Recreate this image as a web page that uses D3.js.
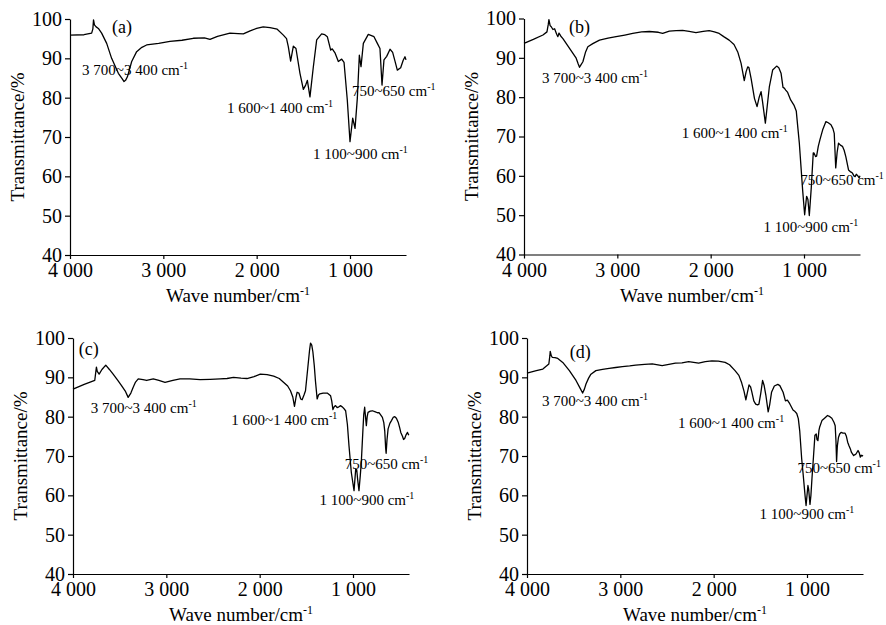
<!DOCTYPE html>
<html>
<head>
<meta charset="utf-8">
<script src="https://cdn.jsdelivr.net/npm/d3@7"></script>
<style>
  body { margin: 0; background: #fff; }
  svg { display: block; }
  text { font-family: "Times New Roman", "Liberation Serif", serif; fill: #000; }
</style>
</head>
<body>
<div id="chart"></div>
<script>
// IR spectra, [wave number, transmittance %]
var spectrumA = [[4000,95.9],[3850,96.0],[3768,96.4],[3755,97.5],[3748,99.8],[3738,98.5],[3720,98.0],[3696,97.6],[3661,96.4],[3607,93.8],[3554,90.0],[3482,86.2],[3440,84.8],[3421,84.1],[3405,84.4],[3385,85.3],[3339,89.2],[3286,91.7],[3230,92.8],[3179,93.4],[3050,93.8],[2929,94.3],[2800,94.6],[2679,95.1],[2560,95.2],[2500,94.8],[2420,95.6],[2286,96.4],[2200,96.3],[2143,96.2],[2070,97.0],[2000,97.6],[1930,98.0],[1857,97.8],[1780,97.4],[1714,95.9],[1680,95.0],[1661,93.0],[1636,89.3],[1607,93.1],[1579,92.5],[1536,86.2],[1500,82.1],[1475,83.2],[1457,84.4],[1429,80.2],[1393,87.8],[1357,94.7],[1304,96.2],[1270,96.0],[1243,95.5],[1207,92.1],[1190,92.4],[1161,91.4],[1125,89.2],[1089,89.8],[1064,89.0],[1029,79.4],[1000,68.8],[971,74.8],[946,72.2],[921,80.0],[900,90.8],[882,87.9],[857,93.8],[804,96.1],[743,95.5],[707,93.8],[679,92.5],[657,83.2],[636,89.6],[607,90.5],[571,92.3],[543,91.5],[518,89.3],[493,87.0],[457,87.6],[430,89.5],[411,90.4],[400,89.6]];

var spectrumB = [[4000,93.7],[3900,94.7],[3797,95.8],[3754,96.6],[3740,98.5],[3733,99.7],[3720,98.2],[3708,97.9],[3690,97.2],[3672,97.4],[3650,96.0],[3637,95.4],[3625,96.3],[3605,95.5],[3583,94.9],[3512,92.4],[3441,89.9],[3420,88.5],[3405,87.6],[3390,88.2],[3369,89.0],[3340,91.5],[3316,92.8],[3263,93.6],[3191,94.5],[3100,95.0],[3013,95.4],[2920,95.8],[2835,96.2],[2740,96.6],[2657,96.7],[2560,96.5],[2514,96.2],[2443,96.8],[2370,96.9],[2301,97.0],[2230,96.7],[2158,96.4],[2080,96.7],[2016,96.9],[1960,96.6],[1909,96.2],[1860,95.4],[1802,94.5],[1750,93.4],[1710,91.5],[1674,88.6],[1640,84.2],[1620,86.5],[1603,87.7],[1590,87.5],[1567,84.8],[1531,79.7],[1503,77.6],[1480,80.0],[1460,81.4],[1445,79.0],[1414,73.4],[1395,77.5],[1371,82.7],[1336,86.9],[1293,87.9],[1270,87.5],[1246,86.1],[1225,82.5],[1211,82.3],[1196,81.8],[1175,81.2],[1143,79.3],[1108,78.0],[1083,76.5],[1065,72.0],[1050,68.3],[1015,56.5],[993,50.1],[972,54.8],[958,54.0],[943,49.9],[922,57.0],[901,65.8],[893,65.8],[876,64.9],[865,65.0],[847,67.5],[829,69.2],[800,71.7],[765,73.8],[740,73.5],[711,73.0],[690,72.0],[676,70.8],[660,62.0],[645,66.0],[630,68.3],[610,67.8],[588,67.5],[570,66.5],[552,64.9],[523,61.5],[500,61.0],[481,60.7],[465,60.0],[452,59.8],[440,60.4],[427,60.1],[409,59.5],[400,60.0]];

var spectrumC = [[4000,87.0],[3880,88.2],[3767,89.2],[3755,91.5],[3749,92.6],[3740,91.5],[3720,90.8],[3690,92.0],[3649,93.1],[3610,92.0],[3570,90.8],[3520,89.2],[3480,87.9],[3440,86.5],[3409,84.9],[3380,86.0],[3355,87.5],[3330,88.8],[3301,89.6],[3250,89.4],[3211,89.2],[3140,89.6],[3080,89.2],[3014,88.7],[2930,89.2],[2853,89.6],[2750,89.6],[2638,89.4],[2530,89.5],[2423,89.6],[2350,89.7],[2280,90.0],[2200,89.8],[2136,89.7],[2060,90.2],[1993,90.8],[1920,90.7],[1850,90.3],[1790,89.7],[1742,88.7],[1700,87.8],[1670,86.6],[1645,85.0],[1627,82.6],[1610,85.0],[1599,86.2],[1580,86.0],[1560,84.5],[1545,84.3],[1525,85.5],[1509,86.6],[1484,92.5],[1465,97.0],[1455,98.7],[1442,98.2],[1430,96.5],[1415,93.0],[1402,89.0],[1384,84.5],[1370,85.5],[1355,85.8],[1320,86.0],[1276,86.0],[1240,85.3],[1228,84.0],[1215,81.8],[1200,82.6],[1187,82.8],[1170,82.3],[1151,82.5],[1135,82.8],[1115,82.5],[1095,82.0],[1079,81.5],[1060,78.0],[1043,72.6],[1018,65.8],[989,61.2],[978,64.5],[971,66.7],[960,66.5],[950,64.0],[936,61.2],[922,65.0],[911,68.4],[895,76.0],[885,80.5],[875,82.4],[866,80.0],[857,77.7],[848,80.0],[839,81.1],[815,81.4],[792,81.5],[760,81.2],[738,81.0],[721,81.0],[700,80.3],[685,79.8],[670,78.5],[660,76.4],[650,72.0],[645,70.7],[636,74.0],[624,76.9],[605,78.3],[588,79.0],[570,79.8],[552,80.0],[535,79.6],[516,78.6],[500,77.2],[488,76.0],[470,75.0],[458,74.2],[445,74.5],[433,75.3],[416,76.0],[405,75.4],[400,75.5]];

var spectrumD = [[4000,91.1],[3900,91.7],[3830,92.1],[3766,93.4],[3755,95.5],[3751,96.6],[3740,95.5],[3730,95.1],[3700,95.0],[3670,94.8],[3617,93.8],[3546,91.7],[3475,89.2],[3430,87.2],[3404,86.0],[3385,87.0],[3368,88.3],[3340,89.8],[3315,90.8],[3262,91.7],[3191,92.0],[3120,92.3],[3050,92.5],[2978,92.7],[2900,92.9],[2836,93.1],[2740,93.3],[2658,93.4],[2552,93.0],[2480,93.3],[2410,93.6],[2340,93.7],[2268,94.0],[2161,93.6],[2090,94.0],[2019,94.2],[1950,94.1],[1877,93.8],[1830,93.2],[1771,91.7],[1730,90.5],[1700,88.6],[1675,86.5],[1655,84.3],[1640,86.0],[1621,88.1],[1605,87.6],[1593,86.5],[1570,84.0],[1550,83.2],[1530,83.0],[1515,83.2],[1495,86.0],[1476,89.2],[1460,88.0],[1441,85.5],[1416,81.2],[1400,83.0],[1380,86.2],[1350,87.8],[1313,88.2],[1291,87.9],[1256,86.2],[1231,84.0],[1210,84.2],[1185,83.3],[1150,81.7],[1128,81.3],[1110,80.8],[1093,79.5],[1078,76.4],[1057,69.3],[1043,65.8],[1021,60.0],[1010,57.4],[1000,60.0],[990,62.5],[982,61.5],[968,57.7],[958,60.0],[947,64.2],[930,70.0],[915,75.3],[901,75.6],[893,74.2],[883,73.9],[872,76.5],[865,77.3],[840,79.0],[812,79.6],[780,80.3],[755,80.0],[734,79.6],[710,78.5],[698,77.7],[690,74.0],[683,68.6],[675,72.5],[663,74.7],[650,75.6],[635,76.0],[615,75.8],[592,75.8],[578,75.0],[564,73.5],[550,72.6],[535,71.8],[525,71.0],[500,70.1],[489,70.3],[475,70.5],[453,71.4],[440,70.8],[429,69.7],[420,70.2],[410,70.0],[400,70.2]];

// tick values / labels
var xTicks = [4000, 3000, 2000, 1000],
    xTickLabels = ["4 000", "3 000", "2 000", "1 000"],
    yTicks = [40, 50, 60, 70, 80, 90, 100];

// band labels, anchored at [wave number, transmittance] of each panel
var bandText = ["3 700~3 400 cm", "1 600~1 400 cm", "1 100~900 cm", "750~650 cm"];
var bandAnchorA = [[3871,85.8],[2318,76.1],[1396,64.4],[979,80.4]],
    bandAnchorB = [[3808,83.6],[2311,69.7],[1435,45.8],[1040,57.7]],
    bandAnchorC = [[3810,80.9],[2304,77.8],[1358,57.5],[1089,66.6]],
    bandAnchorD = [[3840,82.6],[2381,77.0],[1508,53.9],[1103,65.6]];
var panelNames = ["(a)", "(b)", "(c)", "(d)"],
    nameAnchor = [[3550,96.4],[3519,96.3],[3939,95.6],[3542,94.8]];

var width = 886, height = 625,
    plotW = 336, plotH = 236;

// where each panel's plot box starts
var panels = [
  {data: spectrumA, bands: bandAnchorA, left: 70,  top: 19},
  {data: spectrumB, bands: bandAnchorB, left: 524, top: 18.5},
  {data: spectrumC, bands: bandAnchorC, left: 73,  top: 338},
  {data: spectrumD, bands: bandAnchorD, left: 527, top: 338}
];

var svg = d3.select("#chart").append("svg")
    .attr("width", width)
    .attr("height", height);

panels.forEach(function(p, i){
  var x = d3.scaleLinear().domain([4000, 400]).range([0, plotW]);
  var y = d3.scaleLinear().domain([40, 100]).range([plotH, 0]);

  var g = svg.append("g")
      .attr("transform", "translate(" + p.left + "," + p.top + ")");

  // axes
  var yAxis = g.append("g")
      .call(d3.axisLeft(y).tickValues(yTicks).tickSize(5).tickPadding(3).tickSizeOuter(0));
  var xAxis = g.append("g")
      .attr("transform", "translate(0," + plotH + ")")
      .call(d3.axisBottom(x).tickValues(xTicks).tickSize(4).tickPadding(4).tickSizeOuter(0)
        .tickFormat(function(d, j){ return xTickLabels[j]; }));

  [xAxis, yAxis].forEach(function(a){
    a.selectAll("path, line").attr("stroke", "#000").attr("stroke-width", 1.2);
    a.selectAll("text")
      .style("font-family", '"Times New Roman", "Liberation Serif", serif')
      .style("font-size", "20px")
      .attr("fill", "#000");
  });

  // spectrum
  var line = d3.line()
      .x(function(d){ return x(d[0]); })
      .y(function(d){ return y(d[1]); });
  g.append("path")
    .datum(p.data)
    .attr("d", line)
    .attr("fill", "none")
    .attr("stroke", "#000")
    .attr("stroke-width", 1.3)
    .attr("stroke-linejoin", "round");

  // panel name
  g.append("text")
    .attr("x", x(nameAnchor[i][0]))
    .attr("y", y(nameAnchor[i][1]))
    .style("font-size", "18px")
    .text(panelNames[i]);

  // band annotations
  p.bands.forEach(function(b, k){
    var t = g.append("text")
      .attr("x", x(b[0]))
      .attr("y", y(b[1]))
      .style("font-size", "15px")
      .text(bandText[k]);
    t.append("tspan")
      .attr("dy", -6)
      .style("font-size", "10px")
      .text("-1");
  });

  // axis titles
  g.append("text")
    .attr("transform", "translate(" + (-46) + "," + (plotH / 2) + ") rotate(-90)")
    .attr("text-anchor", "middle")
    .style("font-size", "19px")
    .text("Transmittance/%");

  var xt = g.append("text")
    .attr("x", plotW / 2)
    .attr("y", plotH + 47)
    .attr("text-anchor", "middle")
    .style("font-size", "19px")
    .text("Wave number/cm");
  xt.append("tspan")
    .attr("dy", -7)
    .style("font-size", "12px")
    .text("-1");
});
</script>
</body>
</html>
